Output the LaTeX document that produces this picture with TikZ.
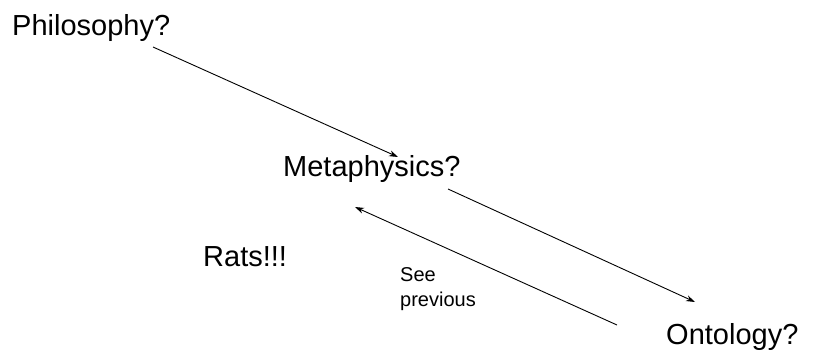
\documentclass[tikz,border=0pt]{standalone}
\usepackage{fontspec}
\setmainfont{Liberation Sans}
\usetikzlibrary{arrows.meta}
\tikzset{
  lbl/.style={inner sep=0pt,anchor=base west,font=\fontsize{29}{34}\selectfont},
  note/.style={inner sep=0pt,anchor=north west,align=left,font=\fontsize{20}{25}\selectfont},
  arr/.style={line width=0.9pt,-{Stealth[length=9pt,width=6pt]}}
}
\begin{document}
\begin{tikzpicture}[x=1pt,y=-1pt]
\useasboundingbox (0,0) rectangle (813,358);
\node[lbl] (phil) at (12,36) {Philosophy?};
\node[lbl] (meta) at (283,177) {Metaphysics?};
\node[lbl] (rats) at (203,266) {Rats!!!};
\node[lbl] (onto) at (666,344) {Ontology?};
\node[note] (prev) at (400,267) {See\\previous};
\coordinate (a1) at (153,47);
\coordinate (b1) at (398,157);
\coordinate (a2) at (448,189);
\coordinate (b2) at (695,302);
\coordinate (a3) at (617,325);
\coordinate (b3) at (355,207);
\draw[arr] (a1) -- (b1);
\draw[arr] (a2) -- (b2);
\draw[arr] (a3) -- (b3);
\end{tikzpicture}
\end{document}
